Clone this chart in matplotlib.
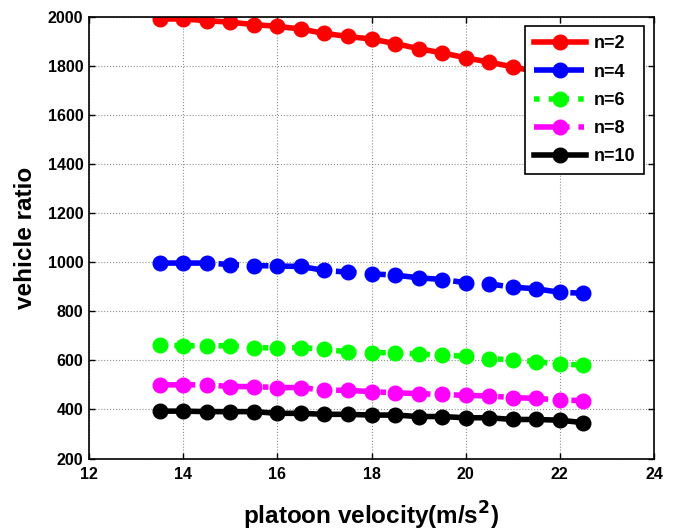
import matplotlib
matplotlib.use("Agg")
import matplotlib.pyplot as plt
import numpy as np

velocity = [13.5, 14, 14.5, 15, 15.5, 16, 16.5, 17, 17.5, 18, 18.5, 19, 19.5, 20, 20.5, 21, 21.5, 22, 22.5]
n2 = [1990, 1990, 1983, 1977, 1967, 1960, 1949, 1931, 1919, 1908, 1890, 1869, 1852, 1832, 1814, 1795, 1775, 1755, 1735]
n4 = [996, 996, 996, 990, 986, 984, 982, 966, 959, 952, 947, 936, 929, 916, 911, 898, 891, 877, 873]
n6 = [662, 659, 659, 659, 652, 650, 652, 644, 635, 631, 631, 625, 622, 616, 607, 602, 595, 584, 581]
n8 = [500, 500, 500, 493, 493, 489, 489, 478, 478, 472, 468, 464, 461, 457, 455, 448, 445, 438, 436]
n10 = [393, 393, 391, 391, 391, 384, 384, 380, 380, 377, 377, 371, 371, 366, 366, 359, 359, 356, 346]
labels = ["n=2", "n=4", "n=6", "n=8", "n=10"]
colors = ["#ff0000", "#0000ff", "#00ff00", "#ff00ff", "#000000"]
styles = ["-", "--", ":", "-.", "-"]

plt.rcParams['font.family'] = ['Liberation Sans', 'DejaVu Sans']
plt.rcParams['font.weight'] = 'bold'

fig = plt.figure(figsize=(6.76, 5.31), dpi=100)
ax = fig.add_axes([0.1317, 0.1365, 0.8358, 0.8324])

for y, lab, c, ls in zip([n2, n4, n6, n8, n10], labels, colors, styles):
    ax.plot(velocity, y, linestyle=ls, color=c, linewidth=4, marker='o',
            markersize=10.5, markerfacecolor=c, markeredgecolor=c, label=lab)

ax.set_xlim(12, 24)
ax.set_ylim(200, 2000)
ax.set_xticks(np.arange(12, 25, 2))
ax.set_yticks(np.arange(200, 2001, 200))
ax.grid(True, color='#909090', linestyle=':', linewidth=0.8)
ax.tick_params(direction='in', top=True, right=True, labelsize=11.5, width=1, length=4)
ax.tick_params(axis='x', pad=6)
ax.tick_params(axis='y', pad=4)
for lbl in ax.get_xticklabels() + ax.get_yticklabels():
    lbl.set_fontweight('bold')
for s in ax.spines.values():
    s.set_linewidth(1.2)

ax.set_xlabel(r"platoon velocity(m/s$^\mathbf{2}$)", fontsize=17.5, fontweight='bold', labelpad=13)
ax.set_ylabel("vehicle ratio", fontsize=17.5, fontweight='bold', labelpad=8)

leg = ax.legend(loc='upper right', fancybox=False, framealpha=1,
                edgecolor='black', borderaxespad=0.55, handlelength=2.9, labelspacing=0.62,
                borderpad=0.5, handletextpad=0.4, prop={'weight': 'bold', 'size': 13})
leg.get_frame().set_linewidth(1.2)

fig.savefig("out.png", dpi=100)
